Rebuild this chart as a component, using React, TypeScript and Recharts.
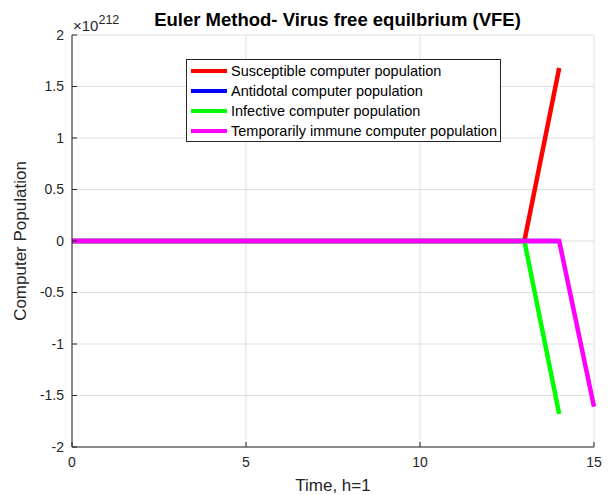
import { LineChart, Line, XAxis, YAxis, CartesianGrid } from "recharts";

// values in units of 1e212
const time = [0, 1, 2, 3, 4, 5, 6, 7, 8, 9, 10, 11, 12, 13, 14, 15];
const susceptible = [0, 0, 0, 0, 0, 0, 0, 0, 0, 0, 0, 0, 0, 0, 1.68, null];
const antidotal = [0, 0, 0, 0, 0, 0, 0, 0, 0, 0, 0, 0, 0, 0, 0, null];
const infective = [0, 0, 0, 0, 0, 0, 0, 0, 0, 0, 0, 0, 0, 0, -1.68, null];
const immune = [0, 0, 0, 0, 0, 0, 0, 0, 0, 0, 0, 0, 0, 0, 0, -1.61];

const xTicks = [0, 5, 10, 15];
const yTicks = [-2, -1.5, -1, -0.5, 0, 0.5, 1, 1.5, 2];

const series = [
  { key: "s", name: "Susceptible computer population", color: "#ff0000" },
  { key: "a", name: "Antidotal computer population", color: "#0000ff" },
  { key: "i", name: "Infective computer population", color: "#00ff00" },
  { key: "r", name: "Temporarily immune computer population", color: "#ff00ff" },
];

const data = time.map((t, k) => ({
  t,
  s: susceptible[k],
  a: antidotal[k],
  i: infective[k],
  r: immune[k],
}));

const font = "'Liberation Sans', Arial, sans-serif";
const tickStyle = { fill: "#262626", fontSize: 14, fontFamily: font };

function LegendBox() {
  return (
    <div
      style={{
        position: "absolute",
        left: 186,
        top: 59,
        width: 315,
        height: 83,
        border: "1px solid #262626",
        background: "#fff",
        padding: "1px 0 0 4px",
        boxSizing: "border-box",
        fontFamily: font,
        fontSize: 14.5,
        color: "#000",
      }}
    >
      {series.map((s) => (
        <div key={s.key} style={{ display: "flex", alignItems: "center", height: 20 }}>
          <span style={{ width: 36, height: 4, background: s.color, marginRight: 4 }} />
          <span style={{ whiteSpace: "nowrap" }}>{s.name}</span>
        </div>
      ))}
    </div>
  );
}

export default function App() {
  return (
    <div style={{ position: "relative", width: 616, height: 495, background: "#fff" }}>
      <style>{"body{margin:0}"}</style>
      <LineChart
        width={616}
        height={495}
        data={data}
        margin={{ top: 35, right: 22, bottom: 0, left: 0 }}
      >
        <CartesianGrid stroke="#dfdfdf" strokeWidth={1} />
        <XAxis
          dataKey="t"
          type="number"
          domain={[0, 15]}
          ticks={xTicks}
          interval={0}
          tick={tickStyle}
          tickSize={-5}
          tickMargin={15}
          stroke="#262626"
          height={48}
          label={{ value: "Time, h=1", position: "insideBottom", offset: 4, fill: "#262626", fontSize: 17, fontFamily: font }}
        />
        <XAxis
          xAxisId="top"
          orientation="top"
          dataKey="t"
          type="number"
          domain={[0, 15]}
          ticks={xTicks}
          tick={false}
          tickSize={-5}
          stroke="#262626"
          height={0}
        />
        <YAxis
          type="number"
          domain={[-2, 2]}
          ticks={yTicks}
          interval={0}
          tick={tickStyle}
          tickSize={-5}
          tickMargin={13}
          stroke="#262626"
          width={72}
          label={{
            value: "Computer Population",
            angle: -90,
            position: "insideLeft",
            offset: 20,
            style: { textAnchor: "middle" },
            fill: "#262626",
            fontSize: 17,
            fontFamily: font,
          }}
        />
        <YAxis
          yAxisId="right"
          orientation="right"
          type="number"
          domain={[-2, 2]}
          ticks={yTicks}
          tick={false}
          tickSize={-5}
          stroke="#262626"
          width={0}
        />
        {series.map((s) => (
          <Line
            key={s.key}
            dataKey={s.key}
            name={s.name}
            stroke={s.color}
            strokeWidth={4.5}
            dot={false}
            type="linear"
            isAnimationActive={false}
          />
        ))}
      </LineChart>
      <div
        style={{
          position: "absolute",
          left: 0,
          width: 675,
          top: 9,
          textAlign: "center",
          fontFamily: font,
          fontWeight: "bold",
          fontSize: 18.5,
          color: "#000",
          whiteSpace: "nowrap",
        }}
      >
        Euler Method- Virus free equilbrium (VFE)
      </div>
      <div
        style={{
          position: "absolute",
          left: 73,
          top: 17,
          fontFamily: font,
          fontSize: 15,
          color: "#262626",
          lineHeight: "17px",
          whiteSpace: "nowrap",
        }}
      >
        ×10<sup style={{ fontSize: 12.5, verticalAlign: 7, lineHeight: 0 }}>212</sup>
      </div>
      <LegendBox />
    </div>
  );
}
